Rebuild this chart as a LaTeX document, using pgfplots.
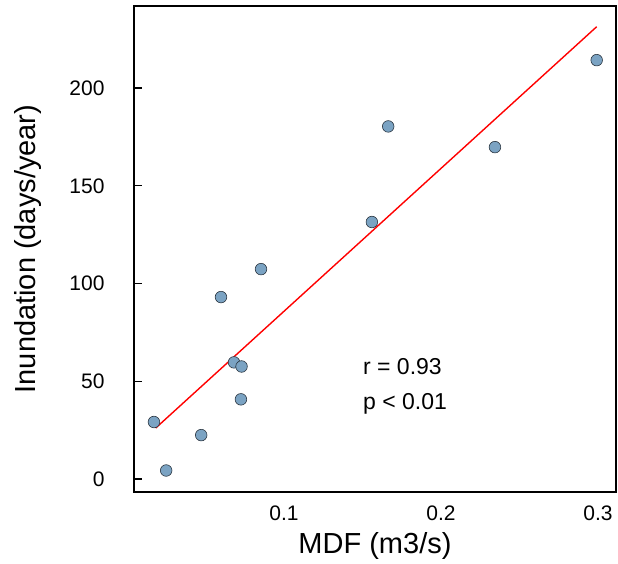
\documentclass[border=0pt]{standalone}
\usepackage{fontspec}
\setmainfont{Liberation Sans}
\usepackage{pgfplots}
\pgfplotsset{compat=1.18}
\definecolor{ptfill}{HTML}{7BA3C3}
\definecolor{ptedge}{HTML}{2A3540}
\begin{document}
\begin{tikzpicture}
\begin{axis}[
  scale only axis,
  width=482pt, height=486pt,
  xmin=0.0045, xmax=0.3115,
  ymin=-6.6, ymax=242,
  axis line style={line width=1.6pt},
  xtick={0.1,0.2,0.3},
  xticklabels={0.1,0.2,0.3},
  ytick={0,50,100,150,200},
  ytick pos=left,
  xtick pos=bottom,
  tick align=inside,
  x tick style={draw=none},
  y tick style={line width=1.2pt, black},
  major tick length=8pt,
  /pgf/number format/assume math mode=true,
  ticklabel style={font=\fontsize{21}{24}\selectfont},
  yticklabel style={xshift=-26pt},
  xticklabel style={yshift=-10pt},
  xlabel={MDF (m3/s)},
  ylabel={Inundation (days/year)},
  label style={font=\fontsize{29}{32}\selectfont},
  xlabel style={at={(axis description cs:0.5,0)}, anchor=base, yshift=-61pt},
  ylabel style={at={(axis description cs:0,0.5)}, anchor=center, yshift=106pt},
  clip=false,
]
\addplot[red, line width=1.4pt] coordinates {(0.0183,26.1) (0.2992,231.4)};
\addplot[only marks, mark=*, mark size=5.8pt, mark options={fill=ptfill, draw=ptedge, line width=0.6pt}] coordinates {
(0.0172,29.2)
(0.0250,4.4)
(0.0473,22.5)
(0.0682,59.7)
(0.0730,57.6)
(0.0726,40.8)
(0.0599,93.1)
(0.0854,107.4)
(0.1560,131.5)
(0.1664,180.4)
(0.2344,169.8)
(0.2992,214.3)
};
\node[anchor=base west, font=\fontsize{23}{26}\selectfont, inner sep=0pt] at (axis cs:0.1503,53.7) {r = 0.93};
\node[anchor=base west, font=\fontsize{23}{26}\selectfont, inner sep=0pt] at (axis cs:0.1503,35.8) {p < 0.01};
\end{axis}
\pgfresetboundingbox
\path (current axis.south west) ++(-134pt,-72pt) rectangle ++(618pt,564pt);
\end{tikzpicture}
\end{document}
